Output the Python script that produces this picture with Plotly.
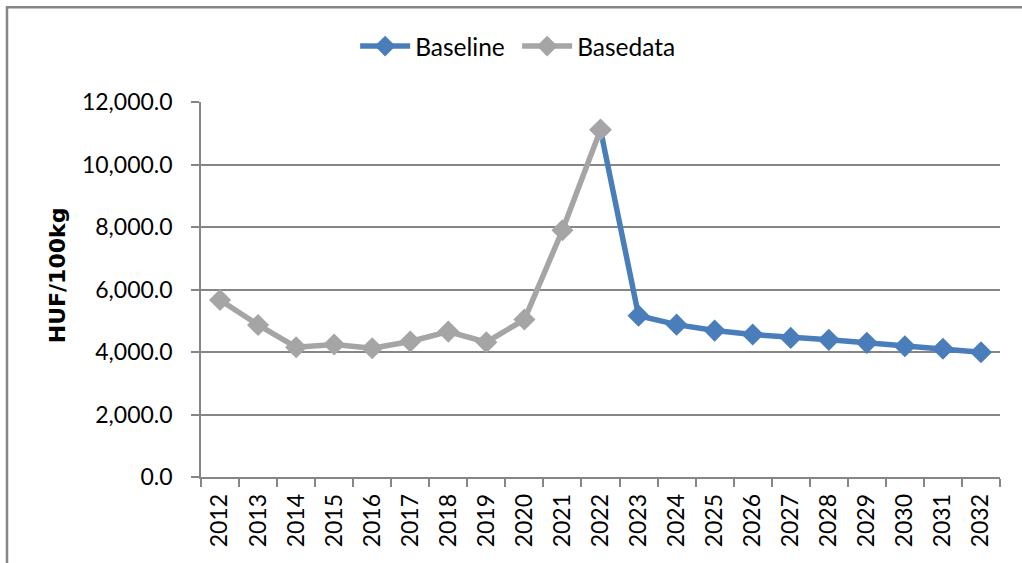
import plotly.graph_objects as go

# Years on the category axis
years = [str(y) for y in range(2012, 2033)]

# Historical prices (HUF/100kg), 2012-2022
basedata_years = years[:11]
basedata_values = [5665, 4866, 4154, 4239, 4121, 4335, 4653, 4313, 5040, 7896, 11113]

# Projection, starting from the last observed year 2022
baseline_years = years[10:]
baseline_values = [11113, 5163, 4876, 4685, 4558, 4452, 4389, 4293, 4185, 4102, 3994]

y_ticks = [0, 2000, 4000, 6000, 8000, 10000, 12000]

BLUE = "#4A7EBB"
GRAY = "#A5A5A5"
AXIS = "#868686"
FONT = "Lato"

fig = go.Figure()
fig.add_trace(go.Scatter(
    x=baseline_years, y=baseline_values, name="Baseline",
    mode="lines+markers",
    line=dict(color=BLUE, width=5.5),
    marker=dict(symbol="diamond", size=17, color=BLUE),
))
fig.add_trace(go.Scatter(
    x=basedata_years, y=basedata_values, name="Basedata",
    mode="lines+markers",
    line=dict(color=GRAY, width=5.5),
    marker=dict(symbol="diamond", size=17, color=GRAY),
))

fig.update_layout(
    width=1022, height=563,
    margin=dict(l=201, r=22, t=102, b=86),
    paper_bgcolor="white", plot_bgcolor="white",
    font=dict(family=FONT, size=23, color="black"),
    showlegend=True,
    legend=dict(
        orientation="h", xref="container", yref="container",
        x=0.506, xanchor="center", y=0.918, yanchor="middle",
        font=dict(family=FONT, size=24.5), itemwidth=50,
        entrywidth=97, entrywidthmode="pixels",
        bgcolor="rgba(0,0,0,0)",
    ),
    xaxis=dict(
        type="category", categoryorder="array", categoryarray=years,
        range=[-0.5, len(years) - 0.5],
        tickson="boundaries", ticks="outside", ticklen=8, tickcolor=AXIS,
        tickwidth=1.5, tickangle=-90, showgrid=False,
        showline=True, linecolor=AXIS, linewidth=1.5,
        tickfont=dict(family=FONT, size=23), ticklabelstandoff=6,
    ),
    yaxis=dict(
        range=[0, 12000], tickvals=y_ticks,
        ticktext=[f"{v:,.1f}" for v in y_ticks],
        ticks="outside", ticklen=8, tickcolor=AXIS, tickwidth=1.5,
        showgrid=True, gridcolor=AXIS, gridwidth=1.5,
        showline=True, linecolor=AXIS, linewidth=1.5,
        zeroline=False,
        tickfont=dict(family=FONT, size=23), ticklabelstandoff=14,
    ),
    annotations=[dict(
        text="<b>HUF/100kg</b>", textangle=-90,
        xref="paper", yref="paper",
        x=(57 - 201) / 799, y=0.538, xanchor="center", yanchor="middle",
        showarrow=False, font=dict(family="DejaVu Sans", size=22, color="black"),
    )],
    shapes=[dict(
        type="rect", xref="paper", yref="paper",
        x0=(7 - 201) / 799, x1=1.05, y0=-0.3, y1=(476.7 - 7.5) / 374.6,
        line=dict(color=AXIS, width=2.5), fillcolor="rgba(0,0,0,0)",
        layer="below",
    )],
)

fig.write_html("out.html")
